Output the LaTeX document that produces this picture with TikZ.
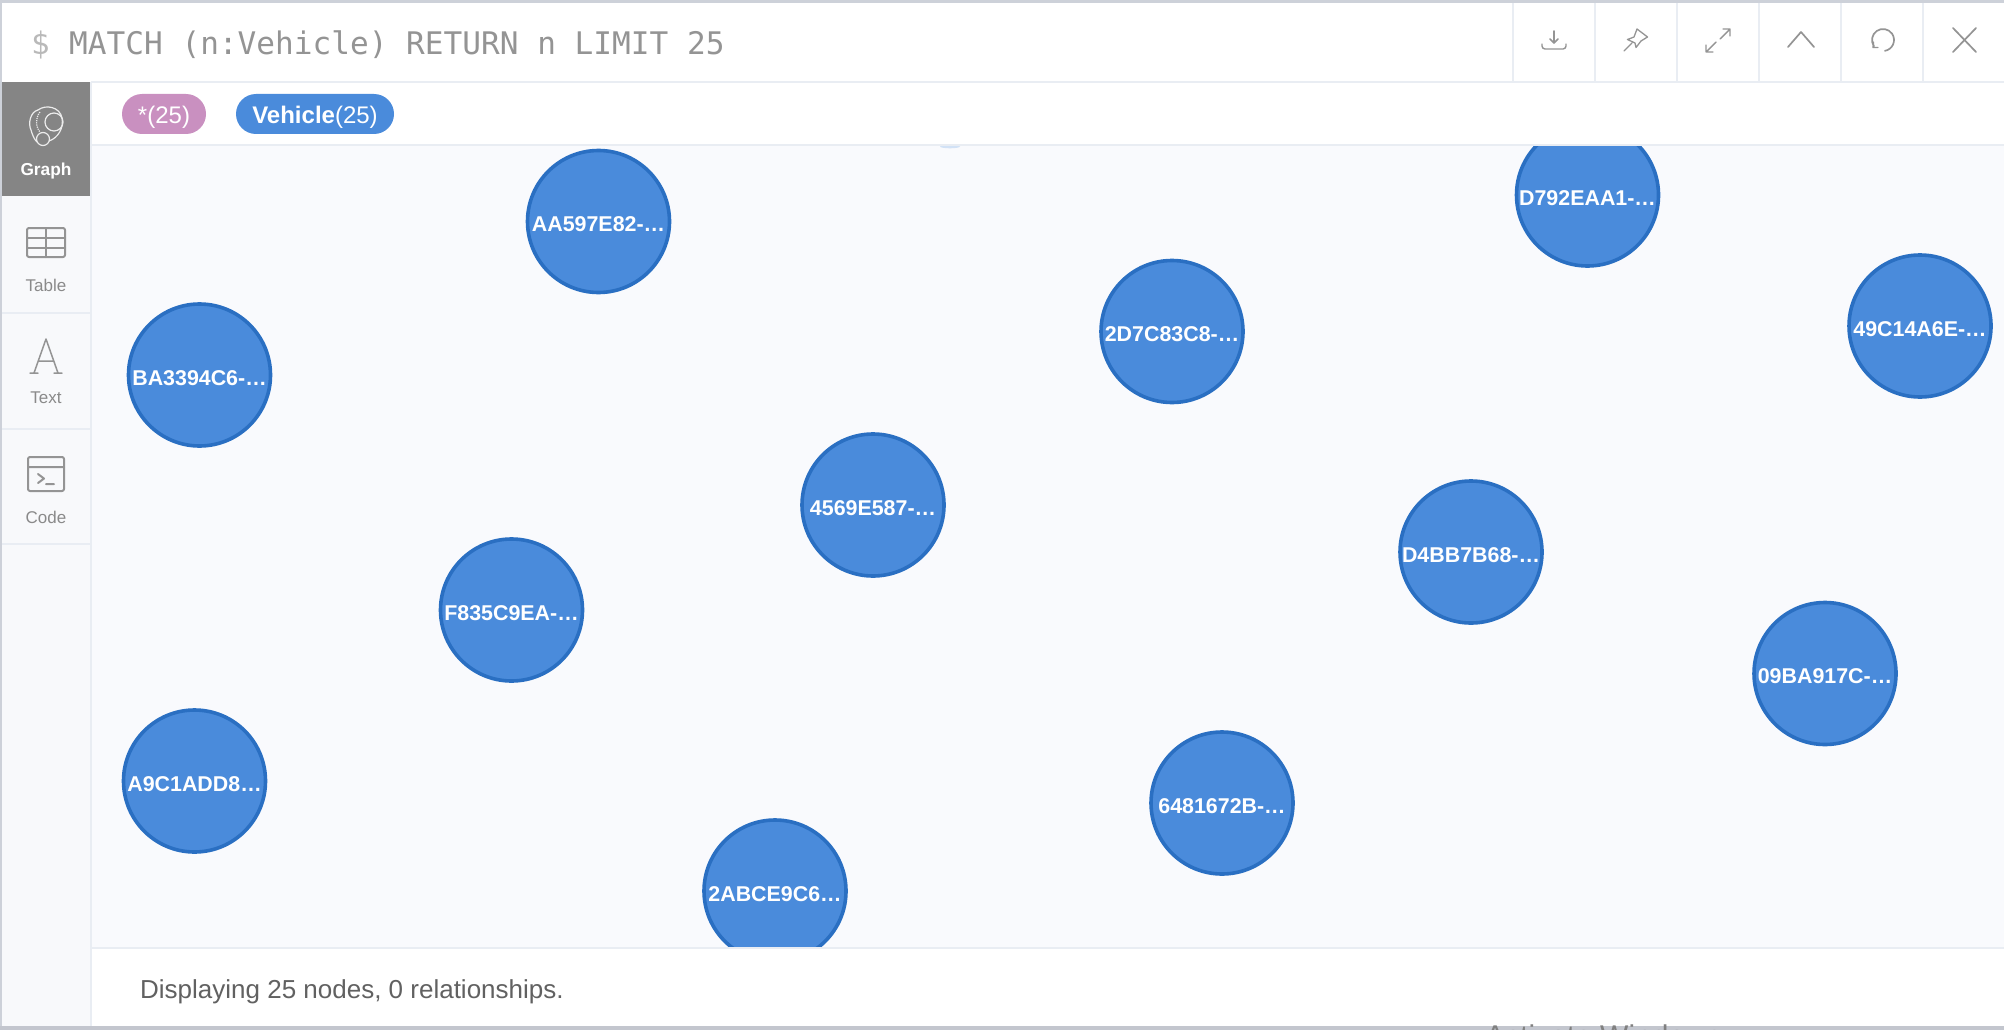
\documentclass[tikz,border=0pt]{standalone}
\usepackage{fontspec}
\setmainfont{Liberation Sans}
\newfontfamily\monof{DejaVu Sans Mono}
\definecolor{edgegrey}{HTML}{CDD1D9}
\definecolor{botgrey}{HTML}{C3C6CE}
\definecolor{sep}{HTML}{E9EDF3}
\definecolor{canvasbg}{HTML}{F9FAFD}
\definecolor{sidebg}{HTML}{F8F9FB}
\definecolor{selgrey}{HTML}{858585}
\definecolor{nodefill}{HTML}{4A8BDB}
\definecolor{nodeline}{HTML}{2A6FC2}
\definecolor{pillpink}{HTML}{C990C0}
\definecolor{iconc}{HTML}{949494}
\definecolor{sidetxt}{HTML}{8A8A8A}
\tikzset{
  x=1pt,y=-1pt,
  veh/.style={circle,draw=nodeline,line width=3.6pt,fill=nodefill,minimum size=142pt,inner sep=0pt,
    text=white,text height=20.6pt,text depth=0pt,font=\fontsize{21.4}{23}\selectfont\bfseries},
  pill/.style={rounded corners=20pt,minimum height=40pt,inner sep=0pt,text=white,text height=19.4pt,text depth=0pt,font=\fontsize{24}{26}\selectfont},
  sidelab/.style={font=\fontsize{17}{19}\selectfont,text=sidetxt},
  sepline/.style={draw=sep,line width=2pt},
  sideline/.style={draw=iconc,line width=2pt,line join=round,line cap=round},
  topicon/.style={draw=iconc,line width=1.7pt,line join=round,line cap=round},
}
\begin{document}
\begin{tikzpicture}
\useasboundingbox (0,0) rectangle (2004,1030);
\clip (0,0) rectangle (2004,1030);
\fill[white] (0,0) rectangle (2004,1030);
% sidebar and canvas
\fill[sidebg] (2,82) rectangle (91,1026);
\fill[canvasbg] (91,146) rectangle (2004,948);
% canvas nodes
\begin{scope}
\clip (91,146) rectangle (2004,947);
\fill[nodefill!25] (950,146.5) ellipse (10 and 1.8);
\node[veh] (n1) at (598.5,221.5) {AA597E82-…};
\node[veh] (n2) at (199.5,375) {BA3394C6-…};
\node[veh] (n3) at (1172,331.5) {2D7C83C8-…};
\node[veh] (n4) at (1587.5,195) {D792EAA1-…};
\node[veh] (n5) at (1920,326) {49C14A6E-…};
\node[veh] (n6) at (873,505) {4569E587-…};
\node[veh] (n7) at (1471,552) {D4BB7B68-…};
\node[veh] (n8) at (511.5,610) {F835C9EA-…};
\node[veh] (n9) at (1825,673.5) {09BA917C-…};
\node[veh] (n10) at (194.5,781) {A9C1ADD8…};
\node[veh] (n11) at (1222,803) {6481672B-…};
\node[veh] (n12) at (775,891) {2ABCE9C6…};
\end{scope}
% frame lines
\draw[sepline] (91,82) -- (2004,82);
\draw[sepline] (91,145) -- (2004,145);
\draw[sepline] (91,948) -- (2004,948);
\draw[sepline] (91,82) -- (91,1026);
\foreach \xx in {1513,1595,1677,1759,1841,1923}{\draw[sepline] (\xx,3) -- (\xx,81);}
\foreach \yy in {313,429,544}{\draw[sepline] (2,\yy) -- (91,\yy);}
\fill[edgegrey] (0,0) rectangle (2004,3.5);
\fill[edgegrey] (0,0) rectangle (2,1030);
% query
\node[anchor=base west,inner sep=0pt,text=gray!55,font=\monof\fontsize{31}{33}\selectfont] (dollar) at (31,54.5) {\$};
\node[anchor=base west,inner sep=0pt,text=iconc,font=\monof\fontsize{31.1}{33}\selectfont] (query) at (69,54.5) {MATCH (n:Vehicle) RETURN n LIMIT 25};
% pills
\node[pill,fill=pillpink,minimum width=84pt] (pa) at (164,114) {*(25)};
\node[pill,fill=nodefill,minimum width=158pt] (pb) at (315,114) {\textbf{Vehicle}(25)};
% sidebar
\fill[selgrey] (2,82) rectangle (90,196);
\begin{scope}[draw=white!85!gray,line width=1.2pt]
\draw (54,122) circle (9);
\draw (43,139) circle (6.5);
\draw (38,110) .. controls (30,112) and (28,124) .. (31,130) .. controls (33,137) and (35,140) .. (37,142);
\draw (38,110) .. controls (46,104) and (60,107) .. (62,118) .. controls (64,128) and (58,138) .. (49,141);
\draw[densely dotted] (40,112) .. controls (35,118) and (36,128) .. (40,132);
\end{scope}
\node[sidelab,text=white,font=\fontsize{17.3}{19}\selectfont\bfseries] (lg) at (46,171) {Graph};
\draw[sideline,rounded corners=2pt] (27,228) rectangle (65,257);
\draw[sideline] (27,238) -- (65,238) (27,248) -- (65,248) (46,228) -- (46,257);
\node[sidelab] (lt) at (46,285) {Table};
\draw[sideline,line width=1.5pt] (34,373) -- (46,339) -- (58,373) (30,373) -- (38,373) (54,373) -- (62,373) (38,361) -- (54,361);
\node[sidelab] (lx) at (46,398) {Text};
\draw[sideline,rounded corners=2pt] (28,457) rectangle (64,491);
\draw[sideline] (28,467) -- (64,467) (38,474) -- (44,478.5) -- (38,483) (46,484) -- (54,484);
\node[sidelab] (lc) at (46,517) {Code};
% top icons
\draw[topicon] (1554,31) -- (1554,43) (1550,39) -- (1554,43) -- (1558,39);
\draw[topicon,line width=1.4pt,rounded corners=3pt] (1542,44) -- (1542,49) -- (1566,49) -- (1566,44);
\draw[topicon,line width=1.3pt] (1624,51) -- (1632,43) (1627.5,39.5) -- (1635,43) -- (1636,47.5) (1627.5,39.5) -- (1634,37) -- (1637,29) -- (1647.5,37) -- (1641,41) -- (1636,47.5);
\draw[topicon,line width=1.4pt] (1720,39) -- (1730,29) (1723,29) -- (1730,29) -- (1730,36);
\draw[topicon,line width=1.4pt] (1716,42) -- (1706,52) (1713,52) -- (1706,52) -- (1706,45);
\draw[topicon] (1788,47) -- (1801,32) -- (1814,47);
\draw[topicon] (1883,40) ++(145:11) arc[start angle=145,end angle=440,radius=11];
\draw[topicon,line width=1.3pt] (1873.5,42) -- (1873,47.5) -- (1878,47.5);
\draw[topicon] (1953,28) -- (1976,52) (1976,28) -- (1953,52);
% footer
\node[anchor=base west,inner sep=0pt,text=black!62,font=\fontsize{26}{28}\selectfont] (foot) at (140,998) {Displaying 25 nodes, 0 relationships.};
\fill[botgrey] (0,1026) rectangle (2004,1030);
\node[anchor=base west,inner sep=0pt,text=gray,font=\fontsize{30}{32}\selectfont] (wm) at (1485,1046) {Activate Windows};
\end{tikzpicture}
\end{document}
